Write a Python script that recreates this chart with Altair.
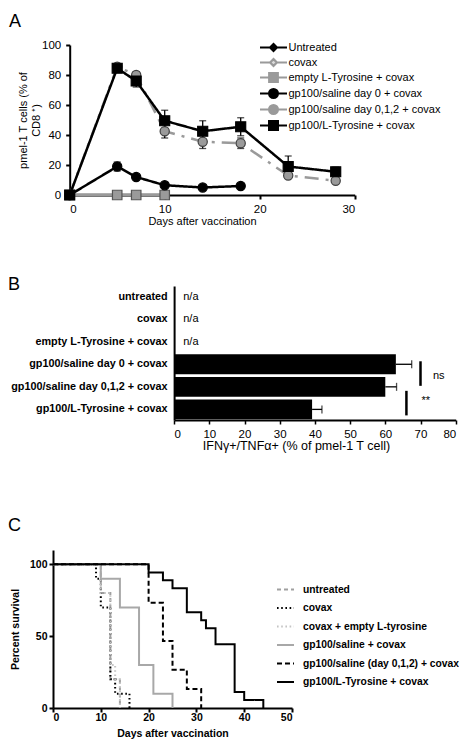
import altair as alt
import pandas as pd

FONT = "Liberation Sans"

# ---------------- Panel A data ----------------
a_series = ["Untreated", "covax", "empty L-Tyrosine + covax",
            "gp100/saline day 0 + covax", "gp100/saline day 0,1,2 + covax",
            "gp100/L-Tyrosine + covax"]
a_days_full = [0, 5, 7, 10, 14, 18, 23, 28]
a_days_short = [0, 5, 7, 10]
a_days_mid = [0, 5, 7, 10, 14, 18]
a_untreated = [0, 0, 0, 0]
a_covax = [0, 0, 0, 0]
a_empty = [0, 0, 0, 0]
a_saline0 = [0, 19, 12, 6.5, 5, 6]
a_saline0_err = [0, 3, 0, 0, 0, 0]
a_saline012 = [0, 85.5, 80, 42.5, 35.5, 34.5, 13, 9.5]
a_saline012_err = [0, 0, 2, 4.5, 4.5, 3.5, 0, 0]
a_ltyr = [0, 84.5, 76, 49.5, 42.5, 45.5, 19, 15.5]
a_ltyr_err = [0, 0, 4, 7, 7, 6, 7, 3]

# ---------------- Panel B data ----------------
b_groups = ["untreated", "covax", "empty L-Tyrosine + covax",
            "gp100/saline day 0 + covax", "gp100/saline day 0,1,2 + covax",
            "gp100/L-Tyrosine + covax"]
b_values = [None, None, None, 63, 60, 39.2]
b_errors = [None, None, None, 4.5, 3.2, 2.8]

# ---------------- Panel C data ----------------
c_series = ["untreated", "covax", "covax + empty L-tyrosine", "gp100/saline + covax",
            "gp100/saline (day 0,1,2) + covax", "gp100/L-Tyrosine + covax"]
c_untreated_days = [0, 10, 12, 14]
c_untreated_surv = [100, 80, 20, 0]
c_covax_days = [0, 9, 10, 12, 13, 16]
c_covax_surv = [100, 90, 70, 20, 10, 0]
c_empty_days = [0, 10, 12, 13, 14]
c_empty_surv = [100, 80, 30, 20, 0]
c_saline_days = [0, 10, 14, 18, 21, 25]
c_saline_surv = [100, 90, 70, 30, 10, 0]
c_saline012_days = [0, 20, 23, 25, 28, 31]
c_saline012_surv = [100, 73.3, 46.7, 26.7, 13.3, 0]
c_ltyr_days = [0, 20, 23, 25, 28, 31, 32, 34, 38, 40, 44]
c_ltyr_surv = [100, 94.4, 88.9, 83.3, 66.7, 61.1, 55.6, 44.4, 11.1, 5.6, 0]

# layout (pixels inside each panel; all panels share the same left origin)
A_X0, A_X1 = 16.7, 301.7
B_X0, B_X1 = 121.1, 402.7

# ================= Panel A =================
a_rows = []
def _add(name, days, vals, errs=None):
    errs = errs or [0] * len(days)
    for d, v, e in zip(days, vals, errs):
        a_rows.append({"series": name, "day": d, "value": v, "lo": v - e, "hi": v + e, "err": e})

_add(a_series[0], a_days_short, a_untreated)
_add(a_series[1], a_days_short, a_covax)
_add(a_series[2], a_days_short, a_empty)
_add(a_series[3], a_days_mid, a_saline0, a_saline0_err)
_add(a_series[4], a_days_full, a_saline012, a_saline012_err)
_add(a_series[5], a_days_full, a_ltyr, a_ltyr_err)
a_df = pd.DataFrame(a_rows)
a_err_df = a_df[a_df["err"] > 0]

GRAY = "#9a9a9a"
a_line_color = ["#000000", GRAY, GRAY, "#000000", GRAY, "#000000"]
a_line_dash = [[1, 0], [1, 0], [1, 0], [1, 0], [14, 7, 3, 7], [1, 0]]
a_marker = [("diamond", 45, "#000000", "#000000"),
            ("diamond", 45, "#dcdcdc", "#808080"),
            ("square", 90, "#9a9a9a", "#555555"),
            ("circle", 85, "#000000", "#000000"),
            ("circle", 85, "#9a9a9a", "#404040"),
            ("square", 100, "#000000", "#000000")]
a_legend_fill = [m[2] for m in a_marker]
a_legend_stroke = a_line_color
a_legend_paths = [
    "M-2.7,0H-0.68M0.68,0H2.7M0,-0.68L0.68,0L0,0.68L-0.68,0Z",
    "M-2.7,0H-0.68M0.68,0H2.7M0,-0.68L0.68,0L0,0.68L-0.68,0Z",
    "M-2.7,0H-0.86M0.86,0H2.7M-0.86,-0.86H0.86V0.86H-0.86Z",
    "M-2.7,0H-0.88M0.88,0H2.7M-0.88,0A0.88,0.88,0,1,1,0.88,0A0.88,0.88,0,1,1,-0.88,0Z",
    "M-2.7,0H-0.88M0.88,0H2.7M-0.88,0A0.88,0.88,0,1,1,0.88,0A0.88,0.88,0,1,1,-0.88,0Z",
    "M-2.7,0H-0.88M0.88,0H2.7M-0.88,-0.88H0.88V0.88H-0.88Z",
]

def axis_a_x():
    return alt.Axis(values=[0, 10, 20, 30], title="Days after vaccination", grid=False,
                    domainColor="black", domainWidth=2, tickColor="black", tickWidth=2, tickSize=4,
                    labelFontSize=11.5, labelColor="black", labelPadding=4, labelFont=FONT,
                    titleFontSize=11, titleFontWeight="normal", titleColor="black", titlePadding=1,
                    titleX=149, titleFont=FONT)

def axis_a_y():
    return alt.Axis(values=[0, 20, 40, 60, 80, 100], title=["pmel-1 T cells (% of", "CD8 \u207a)"],
                    grid=False, domainColor="black", domainWidth=2, tickColor="black", tickWidth=2,
                    tickSize=4, labelFontSize=11.5, labelColor="black", labelPadding=5, labelFont=FONT,
                    titleFontSize=11, titleFontWeight="normal", titleColor="black", titlePadding=0,
                    titleFont=FONT, offset=-A_X0)

def ax(field):
    return alt.X(field + ":Q", scale=alt.Scale(domain=[0, 30], nice=False, range=[A_X0, A_X1]),
                 axis=axis_a_x())

def ay(field):
    return alt.Y(field + ":Q", scale=alt.Scale(domain=[0, 100], nice=False), axis=axis_a_y())

a_layers = []
for i, s in enumerate(a_series):
    a_layers.append(
        alt.Chart(a_df).transform_filter(alt.datum.series == s)
        .mark_line(color=a_line_color[i], strokeWidth=2.5, strokeDash=a_line_dash[i])
        .encode(x=ax("day"), y=ay("value"))
    )
a_layers.append(alt.Chart(a_err_df).mark_rule(color="black", strokeWidth=1.3)
                .encode(x=ax("day"), y=ay("lo"), y2="hi:Q"))
a_layers.append(alt.Chart(a_err_df).mark_tick(color="black", orient="horizontal", size=7, thickness=1.3)
                .encode(x=ax("day"), y=ay("lo")))
a_layers.append(alt.Chart(a_err_df).mark_tick(color="black", orient="horizontal", size=7, thickness=1.3)
                .encode(x=ax("day"), y=ay("hi")))
for i, s in enumerate(a_series):
    shp, size, fill, stroke = a_marker[i]
    a_layers.append(
        alt.Chart(a_df).transform_filter(alt.datum.series == s)
        .mark_point(shape=shp, size=size, filled=True, fill=fill, stroke=stroke, strokeWidth=1.2, opacity=1)
        .encode(x=ax("day"), y=ay("value"))
    )

legend_a_df = pd.DataFrame({"series": a_series, "day": 0, "value": 0})

def legend_a():
    return alt.Legend(title=None, orient="none", legendX=214, legendY=-4, symbolSize=100,
                      symbolStrokeWidth=2.2, symbolOpacity=1, labelFontSize=11, labelFont=FONT,
                      labelColor="black", labelOffset=8.5, rowPadding=-3.8, padding=0, labelLimit=300)

a_layers.append(
    alt.Chart(legend_a_df).mark_point(opacity=0, filled=True)
    .encode(x=ax("day"), y=ay("value"),
            shape=alt.Shape("series:N", scale=alt.Scale(domain=a_series, range=a_legend_paths), legend=legend_a()),
            fill=alt.Fill("series:N", scale=alt.Scale(domain=a_series, range=a_legend_fill), legend=legend_a()),
            stroke=alt.Stroke("series:N", scale=alt.Scale(domain=a_series, range=a_legend_stroke), legend=legend_a()))
)

panel_a = alt.layer(*a_layers).properties(
    width=A_X1, height=150,
    title=alt.TitleParams("A", anchor="start", frame="group", dx=-44, offset=8, fontSize=18,
                          fontWeight="normal", font=FONT, color="black"))

# ================= Panel B =================
b_df = pd.DataFrame({"group": b_groups, "value": b_values, "err": b_errors})
b_bar_df = b_df.dropna().copy()
b_bar_df["hi"] = b_bar_df["value"] + b_bar_df["err"]
b_na_df = pd.DataFrame({"group": b_groups[:3], "pos": [2.6, 2.6, 2.6], "label": ["n/a"] * 3})

def xb(field):
    return alt.X(field + ":Q", scale=alt.Scale(domain=[0, 80], nice=False, range=[B_X0, B_X1]),
                 axis=alt.Axis(values=list(range(0, 81, 10)), title="IFN\u03b3+/TNF\u03b1+ (% of pmel-1 T cell)",
                               grid=False, domainColor="black", domainWidth=2, tickColor="black",
                               tickWidth=1.5, tickSize=4, labelFontSize=11.5, labelColor="black",
                               labelPadding=4, labelFont=FONT, titleFontSize=12.5, titleFontWeight="normal",
                               titleColor="black", titlePadding=0, titleX=243, titleFont=FONT))

yb = alt.Y("group:N", sort=b_groups,
           scale=alt.Scale(domain=b_groups, paddingInner=0.12, paddingOuter=0.03),
           axis=alt.Axis(title=None, ticks=False, labelFontWeight="bold", labelFontSize=10.8,
                         labelColor="black", labelPadding=7, labelLimit=400, labelFont=FONT,
                         domainColor="black", domainWidth=2, offset=-B_X0))

b_layers = [
    alt.Chart(b_bar_df).mark_bar(color="black").encode(x=xb("value"), y=yb),
    alt.Chart(b_bar_df).mark_rule(color="black", strokeWidth=1.3).encode(x=xb("value"), x2="hi:Q", y=yb),
    alt.Chart(b_bar_df).mark_tick(color="black", orient="vertical", size=8, thickness=1.3).encode(x=xb("hi"), y=yb),
    alt.Chart(b_na_df).mark_text(align="left", baseline="middle", fontSize=11, font=FONT, color="black")
      .encode(x=xb("pos"), y=yb, text="label:N"),
]

sig1 = pd.DataFrame({"group": [b_groups[3]], "group2": [b_groups[4]], "pos": [70]})
sig2 = pd.DataFrame({"group": [b_groups[4]], "group2": [b_groups[5]], "pos": [66]})
b_layers.append(alt.Chart(sig1).mark_rule(color="black", strokeWidth=2.5, yOffset=-3, y2Offset=-1)
                .encode(x=xb("pos"), y=yb, y2="group2:N"))
b_layers.append(alt.Chart(sig2).mark_rule(color="black", strokeWidth=2.5, yOffset=4, y2Offset=6)
                .encode(x=xb("pos"), y=yb, y2="group2:N"))
ns_df = pd.DataFrame({"group": [b_groups[4]], "pos": [75.2], "label": ["ns"]})
st_df = pd.DataFrame({"group": [b_groups[5]], "pos": [71.5], "label": ["**"]})
b_layers.append(alt.Chart(ns_df).mark_text(align="center", baseline="middle", dy=-11, fontSize=11,
                                           font=FONT, color="black")
                .encode(x=xb("pos"), y=yb, text="label:N"))
b_layers.append(alt.Chart(st_df).mark_text(align="center", baseline="middle", dy=-8, fontSize=11,
                                           font=FONT, color="black")
                .encode(x=xb("pos"), y=yb, text="label:N"))

panel_b = alt.layer(*b_layers).properties(
    width=B_X1, height=134,
    title=alt.TitleParams("B", anchor="start", frame="group", dx=-45, offset=-8, fontSize=18,
                          fontWeight="normal", font=FONT, color="black"))

# ================= Panel C =================
c_rows = []
for name, days, surv in [
    (c_series[0], c_untreated_days, c_untreated_surv),
    (c_series[1], c_covax_days, c_covax_surv),
    (c_series[2], c_empty_days, c_empty_surv),
    (c_series[3], c_saline_days, c_saline_surv),
    (c_series[4], c_saline012_days, c_saline012_surv),
    (c_series[5], c_ltyr_days, c_ltyr_surv),
]:
    for d, v in zip(days, surv):
        c_rows.append({"series": name, "day": d, "surv": v})
c_df = pd.DataFrame(c_rows)

c_colors = ["#a0a0a0", "#000000", "#c4c4c4", "#a8a8a8", "#000000", "#000000"]
c_dashes = [[4, 3], [1.6, 2.6], [1.6, 2.6], [1, 0], [5, 3], [1, 0]]

def legend_c():
    return alt.Legend(title=None, orient="none", legendX=223, legendY=30, symbolType="stroke",
                      symbolSize=289, symbolStrokeWidth=2, labelFontSize=10.3, labelFontWeight="bold",
                      labelFont=FONT, labelColor="black", labelOffset=8, rowPadding=3.5, padding=0,
                      labelLimit=400)

xc = alt.X("day:Q", scale=alt.Scale(domain=[0, 50], nice=False),
           axis=alt.Axis(values=[0, 10, 20, 30, 40, 50], title="Days after vaccination", grid=False,
                         domainColor="black", domainWidth=2, tickColor="black", tickWidth=2, tickSize=4,
                         labelFontSize=10.5, labelFontWeight="bold", labelColor="black", labelPadding=0,
                         labelFont=FONT, titleFontSize=10.5, titleFontWeight="bold", titleColor="black",
                         titlePadding=6, titleFont=FONT))
yc = alt.Y("surv:Q", scale=alt.Scale(domain=[0, 110], nice=False),
           axis=alt.Axis(values=[0, 50, 100], title="Percent survival", grid=False,
                         domainColor="black", domainWidth=2, tickColor="black", tickWidth=2, tickSize=4,
                         labelFontSize=10.5, labelFontWeight="bold", labelColor="black", labelPadding=2,
                         labelFont=FONT, titleFontSize=10.5, titleFontWeight="bold", titleColor="black",
                         titlePadding=9, titleFont=FONT))

panel_c = alt.Chart(c_df).mark_line(interpolate="step-after", strokeWidth=2).encode(
    x=xc, y=yc,
    color=alt.Color("series:N", scale=alt.Scale(domain=c_series, range=c_colors), legend=legend_c()),
    strokeDash=alt.StrokeDash("series:N", scale=alt.Scale(domain=c_series, range=c_dashes), legend=legend_c()),
    order=alt.Order("day:Q"),
).properties(
    width=239, height=158,
    title=alt.TitleParams("C", anchor="start", frame="group", dx=-45, offset=15, fontSize=18,
                          fontWeight="normal", font=FONT, color="black"))

RES = dict(color="independent", strokeDash="independent", shape="independent",
           fill="independent", stroke="independent")
lower = alt.vconcat(panel_b, panel_c, spacing=65).resolve_scale(**RES)
chart = alt.vconcat(panel_a, lower, spacing=49).resolve_scale(**RES).properties(
    padding={"top": 5, "left": 0, "right": 0, "bottom": 0}
).configure(font=FONT).configure_view(stroke=None)

chart.save("out.html", embed_options={"renderer": "svg", "actions": False})
